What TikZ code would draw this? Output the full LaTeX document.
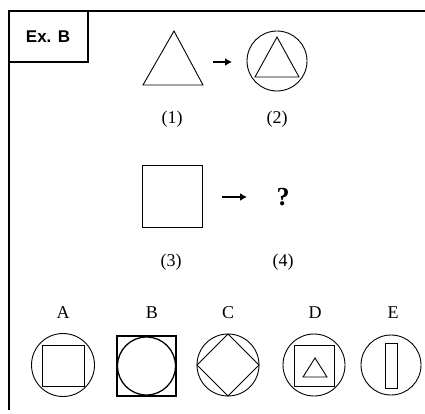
\documentclass[tikz,border=0pt]{standalone}
\usepackage{fontspec}
\setmainfont{Liberation Serif}
\newfontfamily\labfont{Liberation Sans}
\usetikzlibrary{arrows.meta}
\begin{document}
\begin{tikzpicture}[x=1pt,y=-1pt,
  fig/.style={line width=0.9pt},
  frame/.style={line width=1.6pt},
  lab/.style={font=\fontsize{18}{18}\selectfont, inner sep=0pt},
  arr/.style={line width=2.6pt,-{Latex[length=7pt,width=8pt]}}]
\useasboundingbox (0,0) rectangle (425,414);
% frame
\draw[frame] (9,410) -- (9,11) -- (425,11);
\draw[line width=1.2pt] (9,62) -- (88,62) -- (88,11);
\node[font=\labfont\bfseries\fontsize{17}{17}\selectfont, inner sep=0pt] (ex) at (48,37) {Ex. B};
% (1) triangle
\draw[fig] (174,31) -- (203,85) -- (143,85) -- cycle;
% (2) circle with triangle
\draw[fig] (277,61) circle (30);
\draw[fig] (277,37) -- (299,77) -- (255,77) -- cycle;
% arrows
\coordinate (a1s) at (213,62); \coordinate (a1e) at (232,62);
\draw[arr] (a1s) -- (a1e);
\coordinate (a2s) at (222,197); \coordinate (a2e) at (247,197);
\draw[arr] (a2s) -- (a2e);
% labels
\node[lab] (l1) at (172,119) {(1)};
\node[lab] (l2) at (277,119) {(2)};
% (3) square
\draw[fig] (142,165) rectangle (202,227);
\node[font=\bfseries\fontsize{26}{26}\selectfont, inner sep=0pt] (q) at (283,197) {?};
\node[lab] (l3) at (171,262) {(3)};
\node[lab] (l4) at (283,262) {(4)};
% option letters
\node[lab] (A) at (63,313) {A};
\node[lab] (B) at (152,313) {B};
\node[lab] (C) at (228,313) {C};
\node[lab] (D) at (315,313) {D};
\node[lab] (E) at (393,313) {E};
% A
\draw[fig] (63,365) circle (31.5);
\draw[fig] (42,345) rectangle (84,386);
% B
\draw[line width=1.3pt] (117,336) rectangle (176,396);
\draw[line width=1.3pt] (146.5,366) circle (29);
% C
\draw[fig] (228,365) circle (31);
\draw[fig] (228,334) -- (259,365) -- (228,396) -- (197,365) -- cycle;
% D
\draw[fig] (314,365) circle (31);
\draw[fig] (294,345) rectangle (334,386);
\draw[fig] (315,358) -- (327,377) -- (303,377) -- cycle;
% E
\draw[fig] (391,365) circle (30);
\draw[fig] (385,343) rectangle (397,388);
\end{tikzpicture}
\end{document}
